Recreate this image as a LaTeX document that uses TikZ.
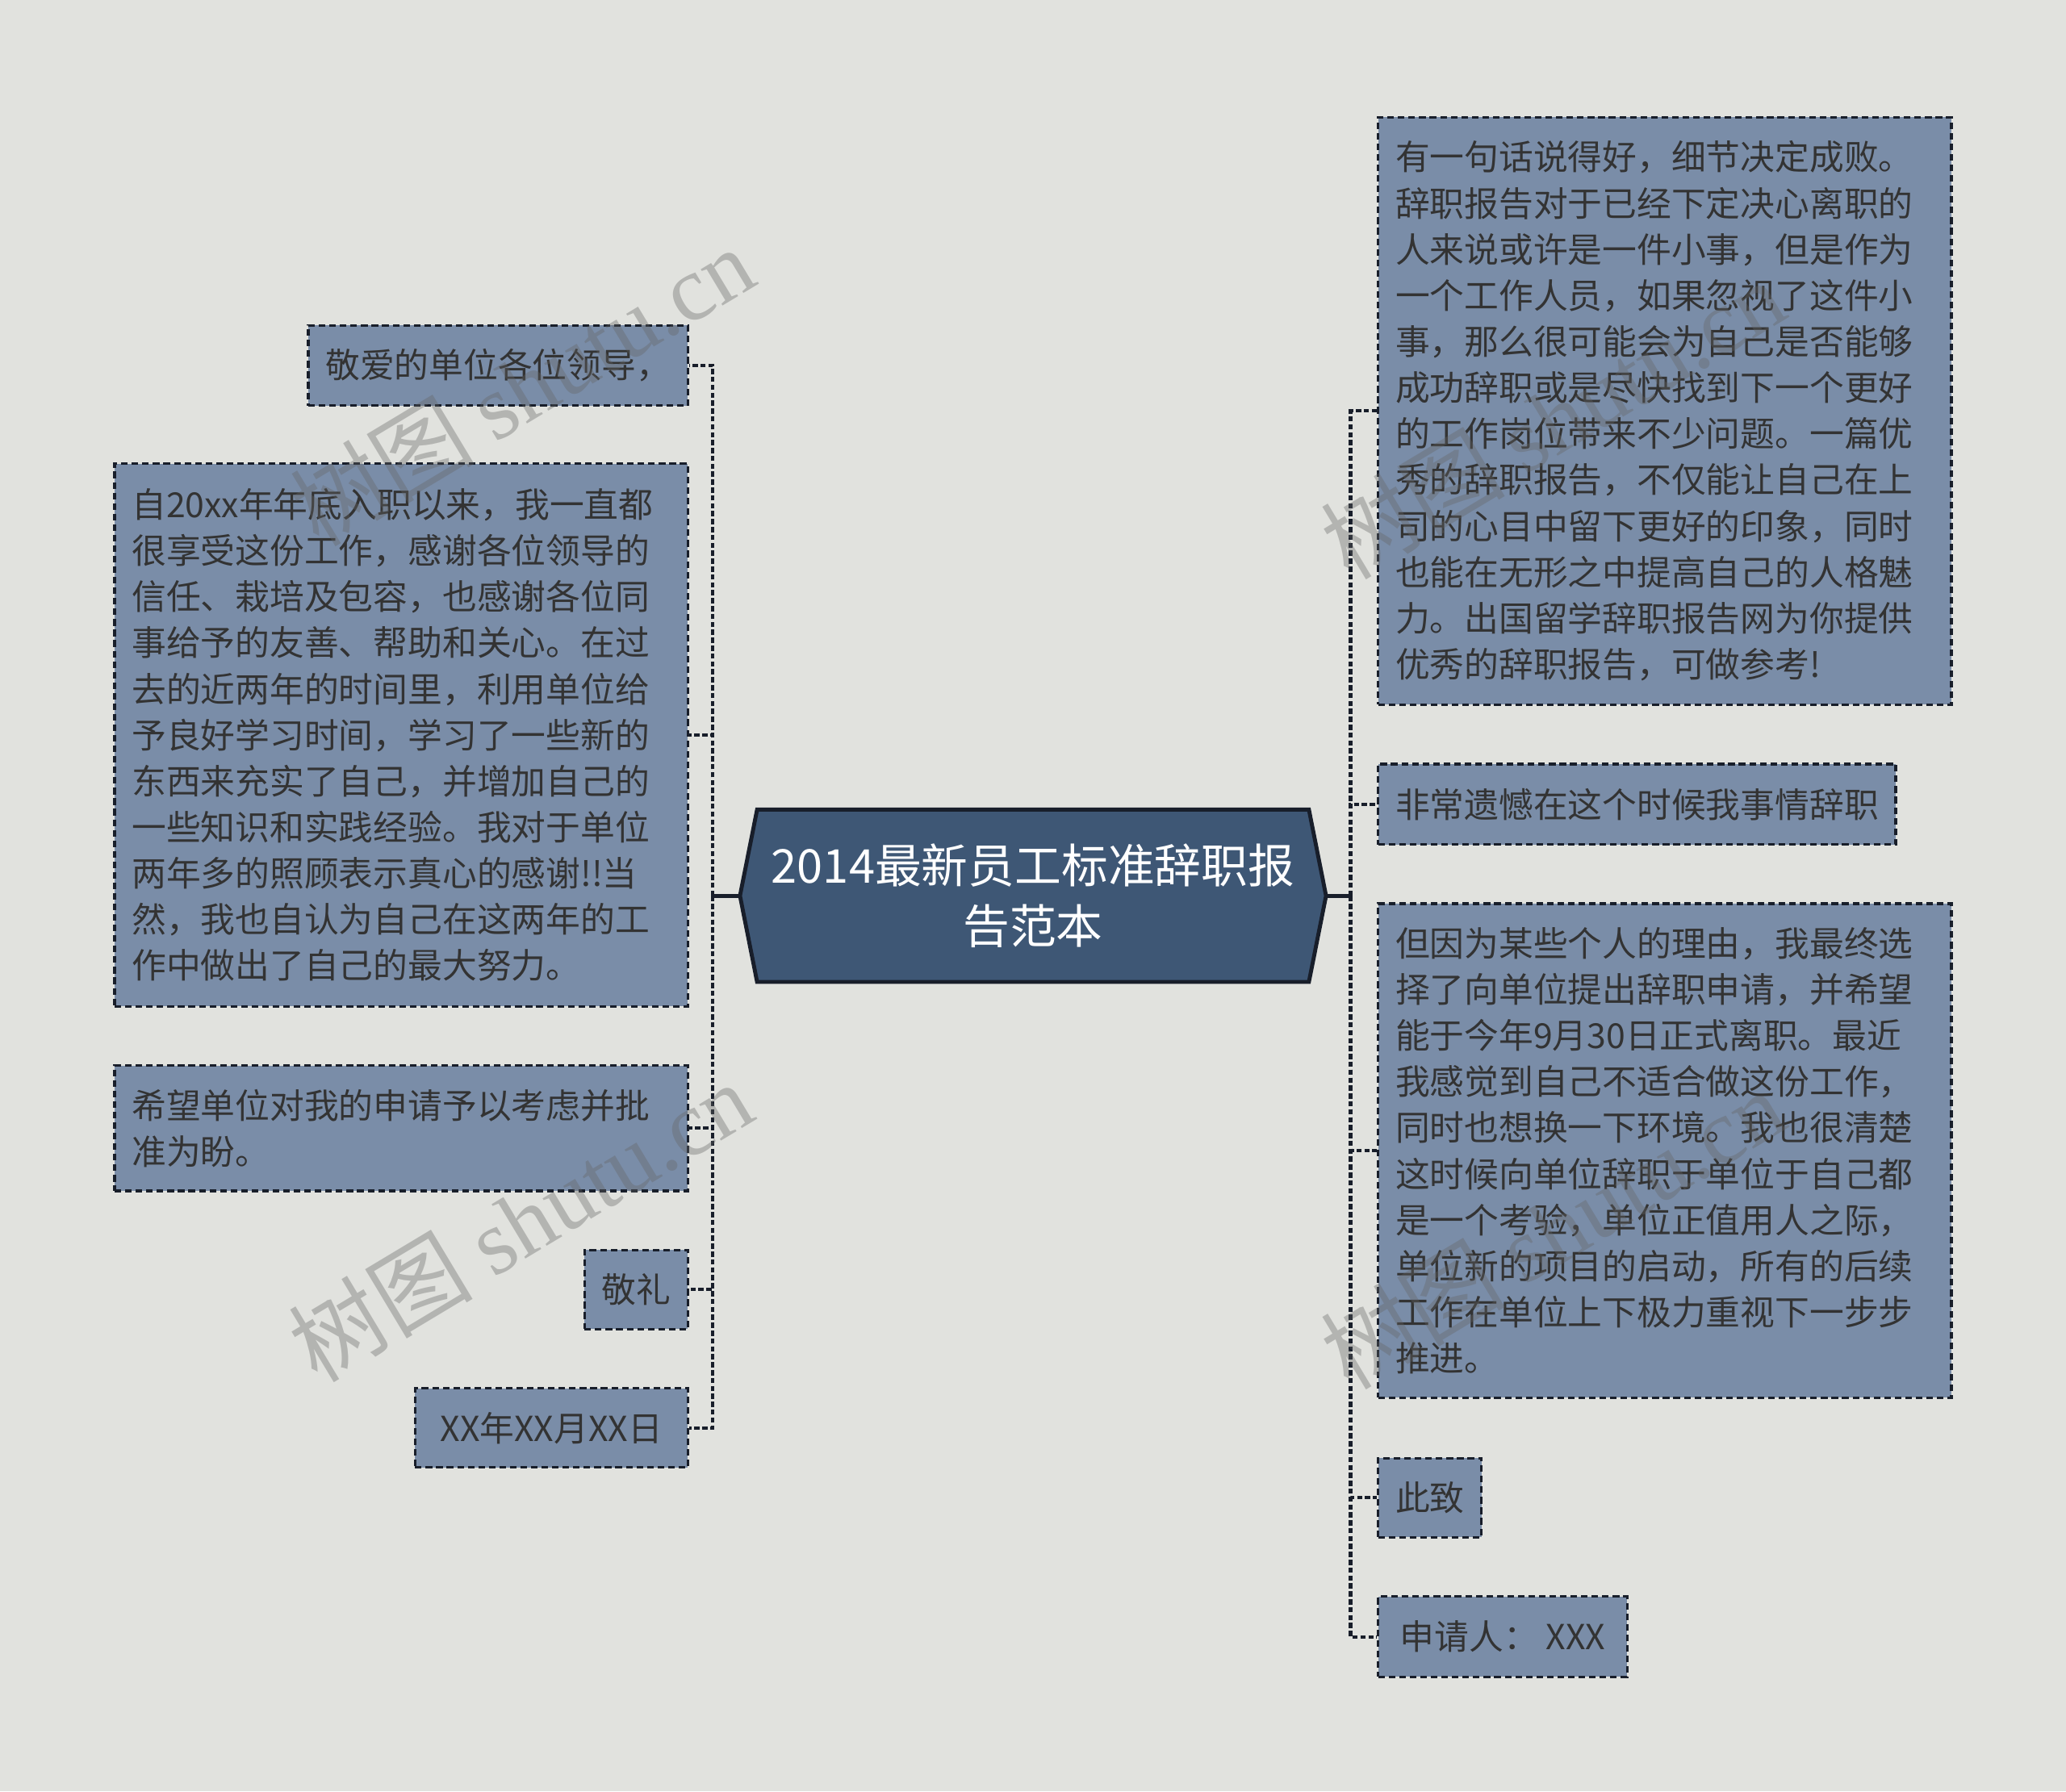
\documentclass[tikz,border=0pt]{standalone}
\usepackage{fontspec}
\usepackage{xcolor}
\usepackage{tikz}
\usetikzlibrary{positioning,calc}
\newfontfamily\cjk{Noto Sans CJK SC}
\newfontfamily\wmlatin{Liberation Serif}

\definecolor{canvasC}{RGB}{225,226,222}
\definecolor{leafC}{RGB}{122,141,168}
\definecolor{hubC}{RGB}{62,87,117}
\definecolor{edgeC}{RGB}{24,30,42}
\definecolor{inkC}{RGB}{51,51,51}
\definecolor{wmC}{RGB}{100,100,100}

\pgfdeclarelayer{bg}
\pgfsetlayers{bg,main}

\tikzset{
  leaf/.style={draw=edgeC, line width=1pt, dash pattern=on 2.5pt off 1.5pt,
    fill=leafC, text=inkC, font=\cjk\fontsize{13.1}{17.5}\selectfont,
    inner xsep=6.5pt, inner ysep=0pt, align=left},
  wide/.style={text width=204.5pt},
  link/.style={draw=edgeC, line width=1.25pt, dash pattern=on 2pt off 1pt},
  stem/.style={draw=edgeC, line width=1.5pt},
  hubline/.style={draw=edgeC, line width=1.5pt, fill=hubC},
  wmark/.style={text=wmC, opacity=0.36, rotate=31, font=\fontsize{35}{40}\selectfont}
}

\begin{document}
\begin{tikzpicture}[x=0.5pt, y=-0.5pt]
  % canvas
  \useasboundingbox (0,0) rectangle (1568,1360);
  \begin{pgfonlayer}{bg}
    \fill[canvasC] (0,0) rectangle (1568,1360);
  \end{pgfonlayer}

  % centre
  \node[text=white, font=\cjk\fontsize{17.7}{23}\selectfont, align=center,
        minimum width=209pt, minimum height=65pt, inner sep=0pt] (title) at (784,680)
        {2014最新员工标准辞职报\\告范本};
  \begin{pgfonlayer}{bg}
    \draw[hubline] (title.north west) -- (title.north east) -- ([xshift=6.5pt]title.east)
      -- (title.south east) -- (title.south west) -- ([xshift=-6.5pt]title.west) -- cycle;
  \end{pgfonlayer}
  \coordinate (tipL) at ([xshift=-6.5pt]title.west);
  \coordinate (tipR) at ([xshift=6.5pt]title.east);
  \coordinate (jl) at (541,680);
  \coordinate (jr) at (1025,680);

  % left side
  \node[leaf, anchor=north east, minimum height=30.5pt] (greet) at (523,246) {敬爱的单位各位领导，};
  \node[leaf, wide, anchor=north east, minimum height=206pt] (body) at (523,351)
    {自20xx年年底入职以来，我一直都\\很享受这份工作，感谢各位领导的\\信任、栽培及包容，也感谢各位同\\事给予的友善、帮助和关心。在过\\去的近两年的时间里，利用单位给\\予良好学习时间，学习了一些新的\\东西来充实了自己，并增加自己的\\一些知识和实践经验。我对于单位\\两年多的照顾表示真心的感谢!!当\\然，我也自认为自己在这两年的工\\作中做出了自己的最大努力。};
  \node[leaf, wide, anchor=north east, minimum height=47.5pt] (hope) at (523,808)
    {希望单位对我的申请予以考虑并批\\准为盼。};
  \node[leaf, anchor=north east, minimum height=30pt] (salute) at (523,948) {敬礼};
  \node[leaf, anchor=north east, minimum height=30pt, minimum width=103.5pt] (date) at (523,1053) {XX年XX月XX日};

  % right side
  \node[leaf, wide, anchor=north west, minimum height=223pt] (intro) at (1045,88)
    {有一句话说得好，细节决定成败。\\辞职报告对于已经下定决心离职的\\人来说或许是一件小事，但是作为\\一个工作人员，如果忽视了这件小\\事，那么很可能会为自己是否能够\\成功辞职或是尽快找到下一个更好\\的工作岗位带来不少问题。一篇优\\秀的辞职报告，不仅能让自己在上\\司的心目中留下更好的印象，同时\\也能在无形之中提高自己的人格魅\\力。出国留学辞职报告网为你提供\\优秀的辞职报告，可做参考!};
  \node[leaf, anchor=north west, minimum height=30.5pt] (regret) at (1045,579) {非常遗憾在这个时候我事情辞职};
  \node[leaf, wide, anchor=north west, minimum height=187.5pt] (reason) at (1045,685)
    {但因为某些个人的理由，我最终选\\择了向单位提出辞职申请，并希望\\能于今年9月30日正式离职。最近\\我感觉到自己不适合做这份工作，\\同时也想换一下环境。我也很清楚\\这时候向单位辞职于单位于自己都\\是一个考验，单位正值用人之际，\\单位新的项目的启动，所有的后续\\工作在单位上下极力重视下一步步\\推进。};
  \node[leaf, anchor=north west, minimum height=30pt] (closing) at (1045,1106) {此致};
  \node[leaf, anchor=north west, minimum height=30.5pt, minimum width=94.5pt] (signer) at (1045,1211) {申请人： XXX};

  % connectors
  \draw[stem] (tipL) -- (jl);
  \draw[stem] (tipR) -- (jr);
  \foreach \n in {greet,body,hope,salute,date}
    \draw[link] (jl) |- (\n.east);
  \foreach \n in {intro,regret,reason,closing,signer}
    \draw[link] (jr) |- (\n.west);

  % watermarks
  \node[wmark] (wm1) at (396,293) {\cjk 树图 \wmlatin shutu.cn};
  \node[wmark] (wm2) at (395,927) {\cjk 树图 \wmlatin shutu.cn};
  \node[wmark] (wm3) at (1178,318) {\cjk 树图 \wmlatin shutu.cn};
  \node[wmark] (wm4) at (1178,933) {\cjk 树图 \wmlatin shutu.cn};
\end{tikzpicture}
\end{document}
